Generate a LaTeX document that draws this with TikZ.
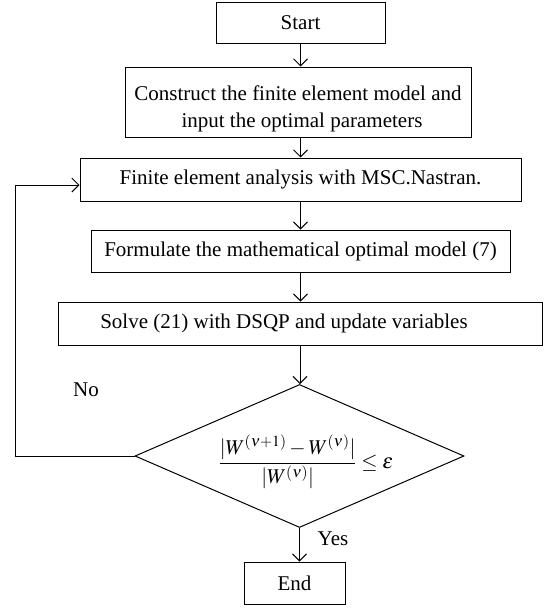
\documentclass[tikz,border=0pt]{standalone}
\usepackage{amsmath}
\usepackage{mathptmx}
\usepackage{fontspec}
\setmainfont{Liberation Serif}
\usetikzlibrary{arrows.meta,shapes.geometric}
\begin{document}
\begin{tikzpicture}[x=1pt,y=-1pt,
  txt/.style={font=\fontsize{21}{27}\selectfont},
  box/.style={draw, line width=1pt, rectangle, inner sep=0pt, txt},
  flow/.style={draw, line width=1pt,
    -{Straight Barb[length=7pt,width=14pt,line width=1pt]}},
  lbl/.style={txt, inner sep=0pt}]
\useasboundingbox (0,0) rectangle (545,608);

% process boxes
\node[box, minimum width=169pt, minimum height=41pt] (start) at (300.5,22.5) {Start};
\node[box, minimum width=346pt, minimum height=70pt, align=center] (build) at (298,102)
  {\rule{0pt}{28pt}Construct the finite element model and\\ \hspace*{8pt}input the optimal parameters};
\node[box, minimum width=441pt, minimum height=43pt] (fe) at (300.5,179.5)
  {Finite element analysis with MSC.Nastran.};
\node[box, minimum width=419pt, minimum height=42pt] (form) at (300.5,251)
  {Formulate the mathematical optimal model (7)};
\node[box, minimum width=484pt, minimum height=43pt] (solve) at (300,323.5)
  {Solve (21) with DSQP and update variables\hspace*{32pt}};

% convergence test
\node[draw, diamond, line width=1pt, inner sep=0pt,
  minimum width=329pt, minimum height=143pt] (check) at (299.5,456) {};
\node[lbl] (crit) at (306,462)
  {$\dfrac{|W^{(\nu+1)} - W^{(\nu)}|}{|W^{(\nu)}|} \le \varepsilon$};

\node[box, minimum width=101pt, minimum height=42pt] (end) at (294.5,583) {End};

% connectors
\draw[flow] (start.south) -- (start.south |- build.north);
\draw[flow] (fe.north |- build.south) -- (fe.north);
\draw[flow] (fe.south) -- (fe.south |- form.north);
\draw[flow] (form.south) -- (form.south |- solve.north);
\draw[flow] (solve.south) -- (solve.south |- check.north);
\draw[flow] (check.south) -- (check.south |- end.north);

\coordinate (back) at (15.5,456);
\draw[flow] (check.west) -- (back) |- ([yshift=-5.5pt]fe.west);

\node[lbl] (no) at (86,390) {No};
\node[lbl] (yes) at (333,539) {Yes};
\end{tikzpicture}
\end{document}
